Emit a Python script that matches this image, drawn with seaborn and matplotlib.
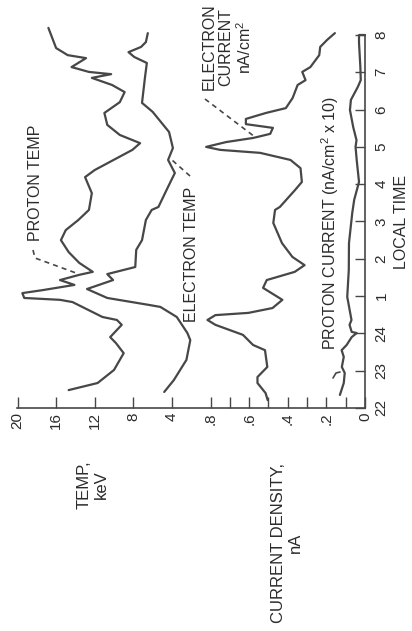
import matplotlib
matplotlib.use("Agg")
import matplotlib.pyplot as plt
from matplotlib.lines import Line2D
import seaborn as sns

# local time runs 22 -> 32 (24 = midnight, 25 = 1 h, ... 32 = 8 h)
time_ticks = [22, 23, 24, 25, 26, 27, 28, 29, 30, 31, 32]
time_labels = ["22", "23", "24", "1", "2", "3", "4", "5", "6", "7", "8"]

# temperatures, keV
proton_temp_time = [22.48, 22.67, 23.02, 23.47, 23.74, 23.90, 24.23, 24.36, 24.44, 24.84,
                    24.90, 24.95, 25.08, 25.16, 25.30, 25.43, 25.57, 25.65, 25.89, 26.18,
                    26.50, 26.77, 27.04, 27.31, 27.76, 28.19, 28.38, 28.92, 29.10, 29.32,
                    29.59, 29.91, 30.20, 30.47, 30.66, 30.85, 30.95, 31.01, 31.14, 31.38,
                    31.46, 31.65, 32.19]
proton_temp = [14.7, 11.7, 10.0, 9.0, 9.8, 10.4, 9.2, 9.7, 11.2, 14.3,
               15.6, 19.3, 19.5, 17.4, 14.1, 15.6, 13.6, 12.2, 13.6, 14.7,
               15.5, 15.0, 13.7, 12.6, 12.3, 13.0, 12.0, 8.1, 7.3, 9.4,
               10.7, 11.0, 9.4, 8.9, 10.2, 12.3, 10.3, 12.6, 14.4, 12.9,
               14.8, 16.0, 16.8]

electron_temp_time = [22.43, 22.75, 23.29, 23.82, 24.01, 24.44, 24.71, 24.76, 24.95, 25.19,
                      25.43, 25.59, 25.78, 26.24, 26.50, 27.04, 27.31, 27.39, 27.93, 28.30,
                      28.65, 28.97, 29.40, 29.94, 30.18, 30.85, 31.25, 31.41, 31.54, 31.68,
                      31.81, 32.05]
electron_temp = [4.8, 3.8, 2.5, 2.1, 2.4, 3.5, 5.2, 6.3, 10.7, 12.8,
                 10.1, 10.7, 7.8, 7.7, 7.1, 6.7, 6.1, 5.4, 4.4, 3.7,
                 4.4, 3.9, 4.3, 6.0, 7.1, 6.8, 6.6, 7.9, 8.5, 7.2,
                 6.7, 6.5]

# current densities, nA/cm2 (proton x 10)
electron_cur_time = [22.21, 22.40, 22.67, 22.83, 23.10, 23.55, 23.69, 23.96, 24.23, 24.36,
                     24.49, 24.55, 24.68, 24.90, 25.22, 25.43, 25.65, 25.83, 26.05, 26.42,
                     26.96, 27.31, 27.39, 27.84, 28.06, 28.43, 28.65, 28.84, 28.92, 29.00,
                     29.13, 29.24, 29.35, 29.51, 29.61, 29.75, 29.91, 30.04, 30.31, 30.66,
                     30.79, 31.01, 31.14, 31.46, 31.68, 31.87, 32.05]
electron_cur = [0.504, 0.515, 0.557, 0.557, 0.506, 0.518, 0.580, 0.632, 0.775, 0.816,
                0.775, 0.604, 0.479, 0.428, 0.528, 0.509, 0.364, 0.313, 0.376, 0.430,
                0.475, 0.466, 0.441, 0.363, 0.327, 0.334, 0.386, 0.543, 0.750, 0.823,
                0.719, 0.579, 0.491, 0.477, 0.617, 0.617, 0.513, 0.410, 0.375, 0.349,
                0.308, 0.325, 0.283, 0.237, 0.232, 0.196, 0.156]

proton_cur_time = [22.35, 22.67, 22.94, 23.10, 23.37, 23.55, 23.69, 23.90, 24.01, 24.04,
                   24.23, 24.36, 24.98, 25.70, 26.42, 27.23, 27.58, 28.06, 28.65, 29.00,
                   29.18, 29.53, 29.99, 30.26, 30.61, 30.79, 31.14, 31.79, 32.00, 32.00]
proton_cur = [0.130, 0.110, 0.105, 0.120, 0.110, 0.121, 0.095, 0.069, 0.043, 0.069,
              0.080, 0.070, 0.092, 0.084, 0.083, 0.066, 0.056, 0.031, 0.043, 0.049,
              0.044, 0.061, 0.078, 0.073, 0.037, 0.022, 0.024, 0.031, 0.031, 0.0]

cur_ticks = [0, 0.1, 0.2, 0.3, 0.4, 0.5, 0.6, 0.7, 0.8]
cur_labels = ["0", "", ".2", "", ".4", "", ".6", "", ".8"]
temp_ticks = [4, 8, 12, 16, 20]
temp_labels = ["4", "8", "12", "16", "20"]

sns.set_style("ticks")
plt.rcParams['font.family'] = ['Liberation Sans', 'DejaVu Sans']
plt.rcParams['mathtext.fontset'] = 'custom'
plt.rcParams['mathtext.rm'] = 'Liberation Sans'

INK = "#474747"
TXT = "#2b2b2b"
W, H = 412, 631

def fx(px): return px / W
def fy(py): return 1 - py / H

fig = plt.figure(figsize=(W / 100, H / 100), dpi=100)
fig.patch.set_facecolor("white")
ax = fig.add_axes([fx(17.5), fy(408), (365 - 17.5) / W, (408 - 35) / H])
ax2 = ax.twiny()

# current on ax, temperature on ax2 (0 keV sits at .8 of the current scale)
sns.lineplot(x=electron_cur, y=electron_cur_time, ax=ax, sort=False, estimator=None,
             orient="y", color=INK, lw=1.6)
sns.lineplot(x=proton_cur, y=proton_cur_time, ax=ax, sort=False, estimator=None,
             orient="y", color=INK, lw=1.6)
sns.lineplot(x=proton_temp, y=proton_temp_time, ax=ax2, sort=False, estimator=None,
             orient="y", color=INK, lw=1.6)
sns.lineplot(x=electron_temp, y=electron_temp_time, ax=ax2, sort=False, estimator=None,
             orient="y", color=INK, lw=1.6)
for a in (ax, ax2):
    for ln in a.get_lines():
        ln.set_clip_on(False)
        ln.set_solid_joinstyle("round")

ax.set_xlim(1.8, 0)
ax2.set_xlim(20, -16)
ax.set_ylim(22, 32)
ax.set_xlabel(""); ax.set_ylabel(""); ax2.set_xlabel("")

for s in ["top", "left"]:
    ax.spines[s].set_visible(False)
for s in ax2.spines.values():
    s.set_visible(False)
for s in ["bottom", "right"]:
    ax.spines[s].set_color(INK)
    ax.spines[s].set_linewidth(1.2)

ax.yaxis.tick_right()
ax.set_yticks(time_ticks)
ax.set_yticklabels(time_labels)
ax.tick_params(axis="y", direction="in", length=7, width=1, color=INK, pad=7,
               labelrotation=90, labelsize=11, labelcolor=TXT)
for lab in ax.get_yticklabels():
    lab.set_va("center")

ax.set_xticks(cur_ticks)
ax.set_xticklabels(cur_labels)
ax.tick_params(axis="x", direction="in", length=8, width=1, color=INK, pad=3,
               labelrotation=90, labelsize=11, labelcolor=TXT)

ax2.xaxis.set_ticks_position("bottom")
ax2.set_xticks(temp_ticks)
ax2.set_xticklabels(temp_labels)
ax2.tick_params(axis="x", direction="in", length=8, width=1, color=INK, pad=3,
                labelrotation=90, labelsize=11, labelcolor=TXT)

fs = 11.5
def label(px, py, s, **kw):
    fig.text(fx(px), fy(py), s, rotation=90, ha="center", va="center",
             fontsize=kw.pop("fontsize", fs), color=TXT, linespacing=1.15,
             multialignment="center", **kw)

label(36, 183, "PROTON TEMP")
label(192, 254, "ELECTRON TEMP")
label(228, 47, "ELECTRON\nCURRENT\nnA/cm$^2$")
label(330, 223, "PROTON CURRENT (nA/cm$^2$ x 10)")
label(402, 222, "LOCAL TIME")
label(93, 485, "TEMP,\nkeV", fontsize=12)
label(287, 543, "CURRENT DENSITY,\nnA", fontsize=12)

def leader(pts):
    xs = [fx(p[0]) for p in pts]
    ys = [fy(p[1]) for p in pts]
    fig.add_artist(Line2D(xs, ys, transform=fig.transFigure, color=INK, lw=1.2,
                          linestyle=(0, (3, 2.5))))

leader([(33, 250), (35, 258), (76, 273)])
leader([(190, 176), (172, 160)])
leader([(205, 99), (255, 137)])
fig.add_artist(Line2D([fx(333), fx(336), fx(340)], [fy(378), fy(373), fy(372)],
                      transform=fig.transFigure, color=INK, lw=1.2))

fig.savefig("out.png", dpi=100, facecolor="white")
